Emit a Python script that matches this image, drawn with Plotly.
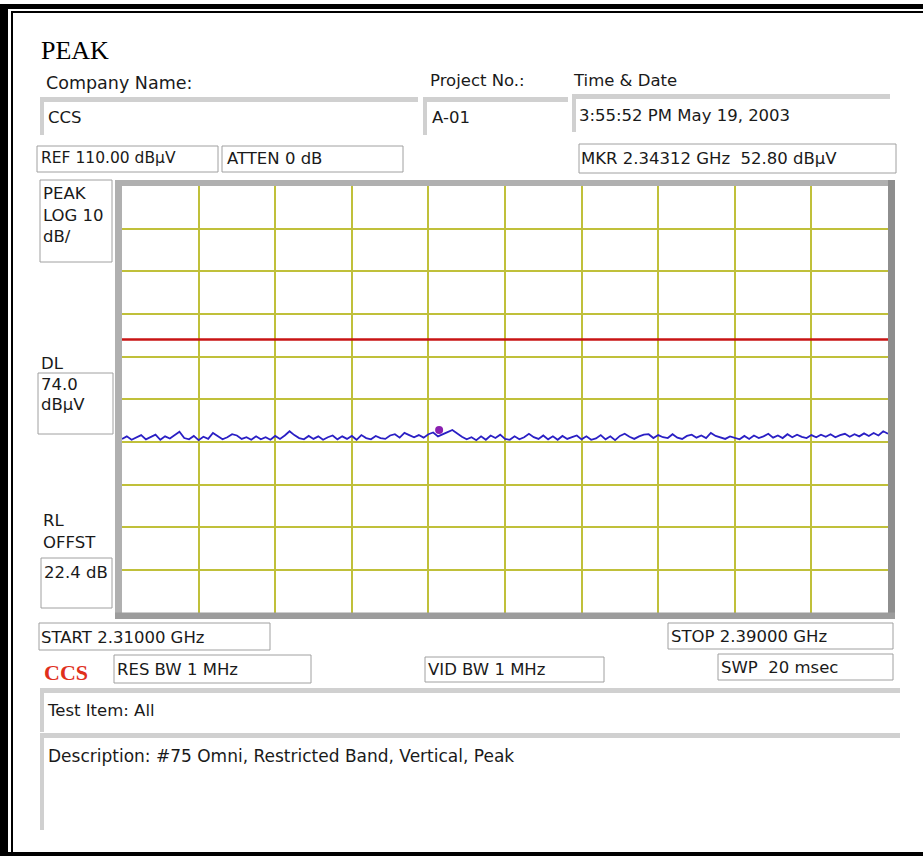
import numpy as np
import plotly.graph_objects as go

W, H = 923, 856

# ---------------- data ----------------
start_ghz = 2.31
stop_ghz = 2.39
ref_level = 110.0
db_per_div = 10.0
display_line = 74.0
marker_freq = 2.34312
marker_level = 52.80

trace_dbuv = [
    50.7, 51.3, 50.5, 51.1, 51.6, 50.6, 51.2, 51.7, 50.5, 51.3,
    50.8, 51.5, 52.4, 50.9, 50.6, 51.4, 50.4, 51.2, 50.7, 52.1,
    51.4, 50.6, 51.1, 51.8, 51.5, 50.7, 51.1, 50.5, 51.3, 50.6,
    51.1, 50.5, 51.4, 50.7, 51.5, 52.5, 51.6, 50.9, 50.6, 51.4,
    50.7, 51.3, 50.5, 51.1, 51.5, 50.6, 51.3, 50.7, 51.4, 50.5,
    51.6, 50.9, 50.6, 51.4, 50.9, 50.7, 51.5, 51.8, 51.0, 52.1,
    51.6, 51.1, 51.6, 51.0, 51.8, 52.2, 51.3, 51.9, 52.3, 52.8,
    51.9, 51.2, 50.6, 51.1, 50.4, 51.3, 50.5, 51.5, 50.9, 51.7,
    50.7, 50.5, 51.3, 50.6, 51.1, 51.9, 51.1, 50.7, 51.5, 50.6,
    51.3, 50.5, 51.4, 50.7, 51.1, 51.5, 50.6, 51.3, 50.5, 50.8,
    51.6, 50.6, 51.3, 50.4, 51.4, 51.9, 51.2, 50.7, 51.3, 51.7,
    51.8, 50.9, 51.6, 51.1, 50.9, 51.8, 51.0, 50.7, 51.4, 51.7,
    51.0, 51.5, 50.9, 52.1, 51.4, 51.1, 50.7, 51.3, 50.9, 50.6,
    51.4, 50.7, 51.5, 50.9, 51.3, 51.9, 51.0, 51.5, 50.9, 51.8,
    51.1, 51.7, 51.2, 50.9, 51.6, 51.1, 51.7, 51.2, 51.8, 51.1,
    51.6, 51.9, 51.2, 51.8, 51.3, 52.0, 51.4, 52.1, 51.5, 52.5,
    51.9,
]

freqs_ghz = np.linspace(start_ghz, stop_ghz, len(trace_dbuv))

# ---------------- helpers ----------------
def px(x):
    return x / W

def py(y):
    return 1 - y / H

shapes = []
annotations = []

def rect(x0, y0, x1, y1, fill=None, line=None, lw=1):
    shapes.append(dict(
        type="rect", xref="paper", yref="paper",
        x0=px(x0), x1=px(x1), y0=py(y1), y1=py(y0),
        fillcolor=fill if fill else "rgba(0,0,0,0)",
        line=dict(color=line if line else "rgba(0,0,0,0)", width=lw if line else 0),
        layer="above",
    ))

def label(text, x, y, size=16.5, color="#1a1a1a", family="DejaVu Sans"):
    annotations.append(dict(
        text=text, xref="paper", yref="paper", x=px(x), y=py(y),
        xanchor="left", yanchor="middle", showarrow=False, borderpad=0,
        font=dict(size=size, color=color, family=family),
    ))

# ---------------- figure ----------------
fig = go.Figure()
fig.add_trace(go.Scatter(
    x=freqs_ghz, y=trace_dbuv, mode="lines",
    line=dict(color="#2a1fc4", width=1.8),
    hoverinfo="skip", showlegend=False,
))
fig.add_trace(go.Scatter(
    x=[start_ghz, stop_ghz], y=[display_line, display_line], mode="lines",
    line=dict(color="#c81414", width=2.6),
    hoverinfo="skip", showlegend=False,
))
fig.add_trace(go.Scatter(
    x=[marker_freq], y=[marker_level], mode="markers",
    marker=dict(color="#8a1fb0", size=8),
    hoverinfo="skip", showlegend=False,
))

plot_l, plot_r, plot_t, plot_b = 122, 888, 186, 612.5
grid_col = "#c0c03a"

fig.update_layout(
    width=W, height=H,
    margin=dict(l=0, r=0, t=0, b=0),
    paper_bgcolor="white", plot_bgcolor="white",
    xaxis=dict(
        domain=[px(plot_l), px(plot_r)], range=[start_ghz, stop_ghz],
        dtick=(stop_ghz - start_ghz) / 10, tick0=start_ghz,
        showgrid=True, gridcolor=grid_col, gridwidth=1.6,
        showticklabels=False, zeroline=False, showline=False, ticks="",
    ),
    yaxis=dict(
        domain=[py(plot_b), py(plot_t)],
        range=[ref_level - 10 * db_per_div, ref_level],
        dtick=db_per_div, tick0=ref_level,
        showgrid=True, gridcolor=grid_col, gridwidth=1.6,
        showticklabels=False, zeroline=False, showline=False, ticks="",
    ),
)

# plot frame (inset look)
rect(115, 180, plot_l, 619, fill="#b0b0b0")
rect(115, 180, 895, plot_t, fill="#b0b0b0")
rect(plot_r, 180, 895, 619, fill="#8e8e8e")
rect(115, plot_b, 895, 619, fill="#9c9c9c")

# outer black double border
rect(0, 4, W, 9, fill="black")
rect(11, 11, W, 13, fill="black")
rect(0, 4, 8, H, fill="black")
rect(11, 11, 13, 852, fill="black")
rect(0, 852, W, H, fill="black")

# shaded (sunken) field borders
for (x0, x1, y0, y1) in [(40, 418, 97, 135), (423, 568, 97, 135), (572, 890, 94, 132),
                         (40, 900, 688, 732), (40, 900, 733, 830)]:
    rect(x0, y0, x1, y0 + 5, fill="#d0d0d0")
    rect(x0, y0, x0 + 4, y1, fill="#d0d0d0")

# outlined boxes
box_col = "#a0a0a0"
for (x0, y0, x1, y1) in [(37, 146, 218, 172), (222, 146, 403, 172), (579, 144, 896, 173),
                         (40, 180, 112, 262), (38, 373, 113, 434), (41, 558, 112, 608),
                         (39, 623, 270, 650), (668, 623, 893, 649), (114, 655, 311, 683),
                         (425, 657, 604, 682), (718, 654, 893, 680)]:
    rect(x0, y0, x1, y1, line=box_col, lw=1)

nb = "\u00a0"
label("PEAK", 40, 51, size=26, color="black", family="Liberation Serif")
label("Company Name:", 45, 83, size=17.5)
label("CCS", 47, 117)
label("Project No.:", 429, 80)
label("A-01", 431, 117)
label("Time & Date", 572, 80)
label("3:55:52 PM May 19, 2003", 578, 115)
label("REF 110.00 dBµV", 40, 158, size=15.5)
label("ATTEN 0 dB", 226, 158)
label(f"MKR 2.34312 GHz{nb*2}52.80 dBµV", 580, 158)
label("PEAK", 42, 194)
label("LOG 10", 42, 216)
label("dB/", 42, 237)
label("DL", 40, 363)
label("74.0", 40, 384)
label("dBµV", 40, 404)
label("RL", 42, 520)
label("OFFST", 42, 542)
label("22.4 dB", 43, 572)
label("START 2.31000 GHz", 40, 637)
label("STOP 2.39000 GHz", 670, 636)
label("<b>CCS</b>", 43, 672, size=22, color="#e0301c", family="Liberation Serif")
label("RES BW 1 MHz", 116, 669)
label("VID BW 1 MHz", 427, 669)
label(f"SWP{nb*2}20 msec", 720, 667)
label("Test Item: All", 46, 710)
label("Description: #75 Omni, Restricted Band, Vertical, Peak", 47, 756, size=17)

fig.update_layout(shapes=shapes, annotations=annotations)
fig.write_html(
    "out.html",
    config={"displayModeBar": False},
    post_script="document.body.style.margin='0';document.body.style.overflow='hidden';",
)
